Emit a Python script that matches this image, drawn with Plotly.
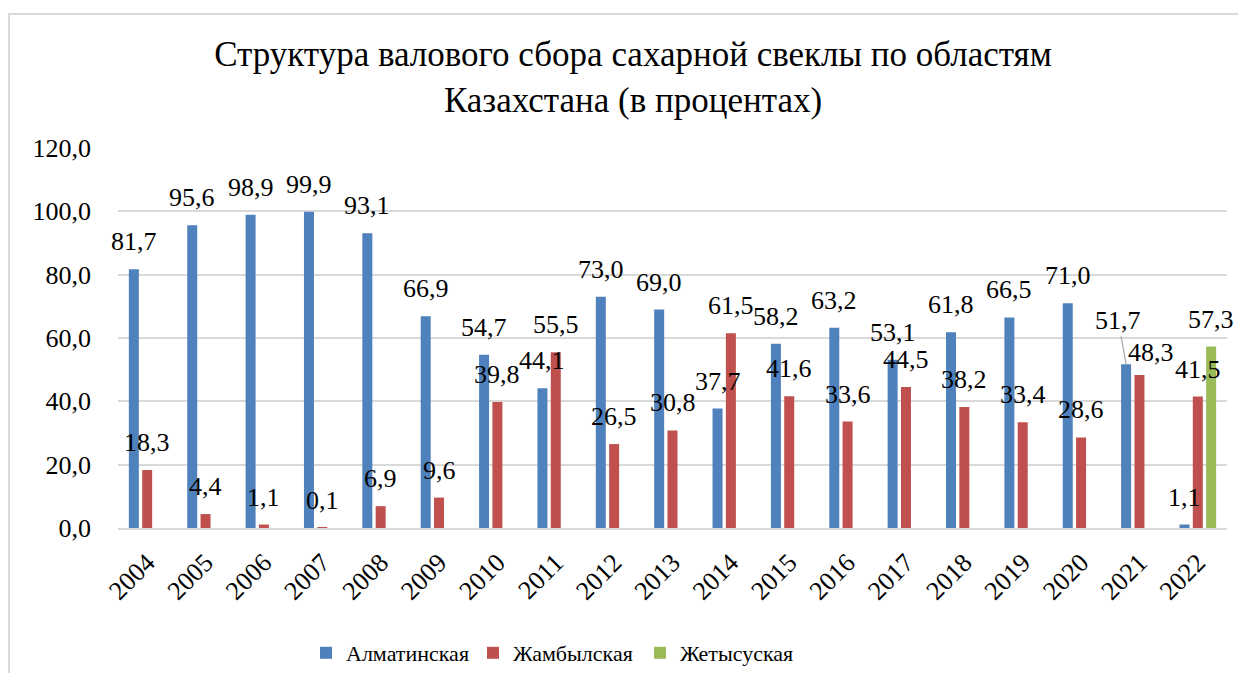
import plotly.graph_objects as go

years = [str(y) for y in range(2004, 2023)]
almaty = [81.7, 95.6, 98.9, 99.9, 93.1, 66.9, 54.7, 44.1, 73.0, 69.0, 37.7, 58.2, 63.2, 53.1, 61.8, 66.5, 71.0, 51.7, 1.1]
zhambyl = [18.3, 4.4, 1.1, 0.1, 6.9, 9.6, 39.8, 55.5, 26.5, 30.8, 61.5, 41.6, 33.6, 44.5, 38.2, 33.4, 28.6, 48.3, 41.5]
zhetysu = [None] * 18 + [57.3]
series_names = ["Алматинская", "Жамбылская", "Жетысуская"]
colors = ["#4F81BD", "#C0504D", "#9BBB59"]
title_text = "Структура валового сбора сахарной свеклы по областям<br>Казахстана (в процентах)"

# the page body has an 8px margin, so the figure is sized to fit the window
OFF = 8
W, H = 1246 - OFF, 681 - 2 * OFF
L, R, T, B = 110, 19, 140, 145
PW, PH = W - L - R, H - T - B
FONT = "Liberation Serif, Times New Roman, Liberation Sans, sans-serif"

fig = go.Figure()
for name, vals, col in zip(series_names, [almaty, zhambyl, zhetysu], colors):
    fig.add_trace(go.Bar(x=years, y=vals, name=name, marker_color=col,
                         marker_line_width=0))

cat_w = PW / len(years)
slot = (1 - 0.315) * cat_w / 3
offsets = [-slot, 0, slot]

# manual label moves (pixels): (series index, year) -> (dx, dy)
label_moves = {(0, "2021"): (-8, -44), (1, "2021"): (12, 5)}

annotations = []
for si, vals in enumerate([almaty, zhambyl, zhetysu]):
    for ci, (yr, v) in enumerate(zip(years, vals)):
        if v is None:
            continue
        txt = f"{v:.1f}".replace(".", ",")
        key = (si, yr)
        if key == (0, "2021"):
            dx, dy = label_moves[key]
            annotations.append(dict(x=ci, y=v, xref="x", yref="y", text=txt,
                                    showarrow=True, arrowhead=0, arrowwidth=1.2,
                                    arrowcolor="#A6A6A6", ax=dx, ay=dy, standoff=0,
                                    xshift=offsets[si],
                                    font=dict(family=FONT, size=26, color="black")))
        else:
            dx, dy = label_moves.get(key, (0, 0))
            annotations.append(dict(x=ci, y=v, xref="x", yref="y", text=txt,
                                    showarrow=False, yanchor="bottom",
                                    xshift=offsets[si] + dx, yshift=11 - dy,
                                    font=dict(family=FONT, size=26, color="black")))

def px_to_paper_x(px):
    return (px - L) / PW

def px_to_paper_y(py):
    return (H - B - py) / PH

shapes = [dict(type="rect", xref="paper", yref="paper",
               x0=px_to_paper_x(1), x1=px_to_paper_x(1260),
               y0=px_to_paper_y(700), y1=px_to_paper_y(6),
               line=dict(color="#D9D9D9", width=2), fillcolor="rgba(0,0,0,0)",
               layer="below")]

fig.update_layout(
    width=W, height=H,
    margin=dict(l=L, r=R, t=T, b=B, autoexpand=False),
    paper_bgcolor="white", plot_bgcolor="white",
    separators=", ",
    barmode="group", bargap=0.315, bargroupgap=0.25,
    title=dict(text=title_text, x=625 / W, xref="container", xanchor="center",
               y=1 - 58 / H, yref="container", yanchor="middle",
               font=dict(family=FONT, size=35, color="black")),
    font=dict(family=FONT, size=26, color="black"),
    legend=dict(orientation="h", x=px_to_paper_x(298), xanchor="left",
                y=px_to_paper_y(645), yanchor="middle",
                font=dict(family=FONT, size=22, color="black"),
                itemwidth=30, entrywidth=122, traceorder="normal"),
    annotations=annotations,
    shapes=shapes,
)
fig.update_xaxes(type="category", range=[-0.5, len(years) - 0.5], tickangle=-45,
                 showgrid=False, showline=True, linecolor="#D9D9D9", linewidth=2,
                 ticklabelstandoff=7,
                 tickfont=dict(family=FONT, size=26, color="black"))
fig.update_yaxes(range=[0, 120], dtick=20, tickformat=".1f",
                 showgrid=True, gridcolor="#D9D9D9", gridwidth=2,
                 zeroline=False, showline=False, ticklabelstandoff=26,
                 tickfont=dict(family=FONT, size=26, color="black"))

fig.write_html("out.html")
